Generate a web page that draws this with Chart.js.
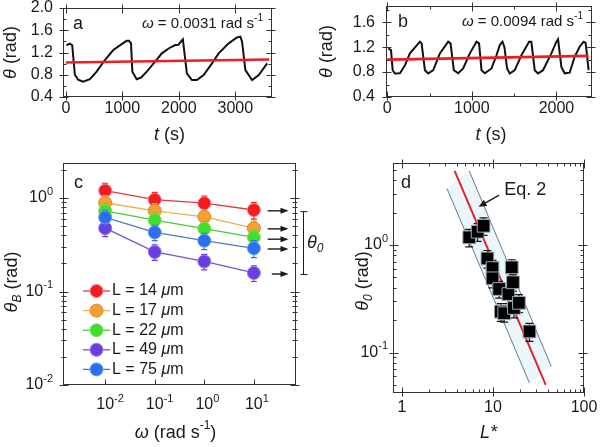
<!DOCTYPE html>
<html>
<head>
<meta charset="utf-8">
<title>theta oscillations</title>
<script src="https://cdn.jsdelivr.net/npm/chart.js@4.4.1/dist/chart.umd.min.js"></script>
<style>
  body { margin: 0; background: #fff; }
  #fig { position: relative; width: 600px; height: 447px; overflow: hidden; }
  .box { position: absolute; }
</style>
</head>
<body>
<div id="fig">
  <div class="box" style="left:0;top:0;width:300px;height:150px"><canvas id="chartA"></canvas></div>
  <div class="box" style="left:300px;top:0;width:300px;height:150px"><canvas id="chartB"></canvas></div>
  <div class="box" style="left:0;top:150px;width:330px;height:297px"><canvas id="chartC"></canvas></div>
  <div class="box" style="left:330px;top:150px;width:270px;height:297px"><canvas id="chartD"></canvas></div>
</div>
<script>
const FONT = '"Liberation Sans", Arial, Helvetica, sans-serif';
const INK = '#1a1a1a';

// ---------- a) omega = 0.0031 rad/s ----------
const tA = [12, 71, 113, 160, 218, 307, 426, 545, 692, 840, 989, 1078, 1119, 1154, 1178, 1255, 1332, 1433, 1581, 1700,
            1847, 1936, 1995, 2025, 2072, 2143, 2232, 2321, 2439, 2588, 2706, 2883, 3031, 3090, 3120, 3179, 3298, 3416, 3564];
const thetaA = [1.33, 1.36, 1.33, 0.80, 0.71, 0.675, 0.72, 0.855, 1.065, 1.245, 1.35, 1.41, 1.41, 1.365, 0.855, 0.72, 0.75, 0.855, 1.035, 1.185,
                1.29, 1.335, 1.34, 1.38, 1.435, 0.825, 0.705, 0.705, 0.795, 1.005, 1.185, 1.365, 1.47, 1.485, 1.395, 0.885, 0.705, 0.795, 1.005];
const fitTA = [0, 3600];
const fitThetaA = [1.02, 1.075];
const xTicksA = [0, 1000, 2000, 3000];
const yTicksA = [0.4, 0.8, 1.2, 1.6, 2.0];
const yMinorA = [0.6, 1.0, 1.4, 1.8];

// ---------- b) omega = 0.0094 rad/s ----------
const tB = [12, 44, 64, 91, 150, 209, 268, 386, 406, 445, 484, 543, 622, 720, 748, 787, 838, 897, 976, 1055,
            1085, 1114, 1153, 1232, 1291, 1330, 1362, 1385, 1416, 1448, 1507, 1586, 1676, 1703, 1743, 1782, 1841, 1940, 1999, 2019,
            2058, 2097, 2156, 2215, 2274, 2321, 2345, 2380];
const thetaB = [1.18, 1.153, 0.83, 0.777, 0.78, 0.91, 1.1, 1.287, 1.26, 0.83, 0.777, 0.83, 1.1, 1.287, 1.26, 0.83, 0.78, 0.858, 1.1, 1.287,
                1.26, 0.83, 0.78, 0.858, 1.07, 1.234, 1.287, 1.2, 0.858, 0.777, 0.83, 1.07, 1.287, 1.287, 0.83, 0.777, 0.83, 1.1, 1.287, 1.326,
                0.884, 0.78, 0.79, 1.045, 1.207, 1.287, 1.27, 0.83];
const fitTB = [0, 2380];
const fitThetaB = [1.0, 1.06];
const xTicksB = [0, 1000, 2000];
const xMinorB = [500, 1500];
const yTicksB = [0.4, 0.8, 1.2, 1.6];
const yMinorB = [0.6, 1.0, 1.4, 1.8];

// ---------- c) theta_B vs omega ----------
const omega = [0.01, 0.1, 1, 10];
const lengths = ['14', '17', '22', '49', '75'];
const thetaB14 = [1.2, 0.96, 0.88, 0.745];
const thetaB17 = [0.89, 0.73, 0.63, 0.476];
const thetaB22 = [0.727, 0.58, 0.47, 0.38];
const thetaB49 = [0.476, 0.265, 0.21, 0.158];
const thetaB75 = [0.62, 0.43, 0.35, 0.29];
const err14 = [0.24, 0.19, 0.17, 0.15];
const err17 = [0.17, 0.14, 0.12, 0.09];
const err22 = [0.14, 0.11, 0.09, 0.07];
const err49 = [0.09, 0.05, 0.04, 0.03];
const err75 = [0.12, 0.08, 0.07, 0.06];
const theta0Arrows = [0.73, 0.468, 0.363, 0.285, 0.154];
const arrowStart = [19, 19, 19, 19, 23];
const arrowEnd = 50;
const theta0Range = [0.715, 0.152];
const decC_x = [0.01, 0.1, 1, 10];
const decC_y = [0.01, 0.1, 1];
const minorC_y = [0.02, 0.03, 0.04, 0.05, 0.06, 0.07, 0.08, 0.09, 0.2, 0.3, 0.4, 0.5, 0.6, 0.7, 0.8, 0.9, 2];

// ---------- d) theta_0 vs L* ----------
const Lstar = [5.5, 6.8, 7.9, 8.7, 9.9, 9.9, 11.7, 12.2, 13.3, 14.8, 16.1, 16.6, 17.0, 19.3, 25.2];
const theta0 = [1.18, 1.33, 1.51, 0.75, 0.61, 0.49, 0.39, 0.24, 0.232, 0.35, 0.62, 0.45, 0.26, 0.29, 0.157];
const theta0Err = [0.22, 0.25, 0.28, 0.14, 0.11, 0.09, 0.07, 0.045, 0.04, 0.065, 0.11, 0.08, 0.05, 0.055, 0.03];
const eqL = [3.8, 38];
const eqTheta = [4.9, 0.05];
const bandUpL = [5.5, 43.8];
const bandUpTheta = [4.9, 0.074];
const bandLoL = [3.13, 25.2];
const bandLoTheta = [3.36, 0.052];
const eqLabel = [13.3, 3.24];
const eqArrowFrom = [11.7, 2.91];
const eqArrowTo = [6.97, 2.27];
const decD_x = [1, 10, 100];
const minorD_x = [2, 3, 4, 5, 6, 7, 8, 9, 20, 30, 40, 50, 60, 70, 80, 90];
const decD_y = [0.1, 1];
const minorD_y = [0.05, 0.06, 0.07, 0.08, 0.09, 0.2, 0.3, 0.4, 0.5, 0.6, 0.7, 0.8, 0.9, 2, 3, 4, 5];

// styles for panel c
const lineColC = ['#e2383f', '#f0b04a', '#49c93a', '#7a4fd2', '#4d7db8'];
const fillColC = ['#f41c1c', '#f6a12e', '#3fe02c', '#6a3ee0', '#2b6ff0'];
const edgeColC = ['#f07a9a', '#d98a2a', '#7ae060', '#9a7ae8', '#6a9af0'];

function pts(xs, ys) { return xs.map((x, i) => ({ x, y: ys[i] })); }

// text with italic / superscript / subscript parts
function rich(ctx, parts, x, y, size, opts = {}) {
  const items = parts.map(([t, f = '']) => {
    const small = f.includes('u') || f.includes('d');
    const s = small ? Math.round(size * 0.68) : size;
    const font = (f.includes('i') ? 'italic ' : '') + s + 'px ' + FONT;
    ctx.font = font;
    const dy = f.includes('u') ? -size * 0.38 : f.includes('d') ? size * 0.3 : 0;
    return { t, font, dy, w: ctx.measureText(t).width };
  });
  const total = items.reduce((a, b) => a + b.w, 0);
  ctx.save();
  ctx.translate(x, y);
  if (opts.rotate) ctx.rotate(-Math.PI / 2);
  let cx = opts.align === 'left' ? 0 : opts.align === 'right' ? -total : -total / 2;
  ctx.fillStyle = opts.color || INK;
  ctx.textBaseline = 'middle';
  ctx.textAlign = 'left';
  items.forEach(it => { ctx.font = it.font; ctx.fillText(it.t, cx, it.dy); cx += it.w; });
  ctx.restore();
}

function logLabel(ctx, x, y, v, align) {
  const e = String(Math.round(Math.log10(v)));
  if (align === 'center') {
    ctx.font = '16px ' + FONT;
    x -= ctx.measureText('10').width / 2;
    align = 'left';
  }
  rich(ctx, [['10'], [e, 'u']], x, y, 16, { align });
}

function arrow(ctx, x1, y1, x2, y2, head = 8, w = 3) {
  const ang = Math.atan2(y2 - y1, x2 - x1);
  const c = Math.cos(ang), s = Math.sin(ang);
  ctx.beginPath();
  ctx.moveTo(x1, y1);
  ctx.lineTo(x2 - head * 0.8 * c, y2 - head * 0.8 * s);
  ctx.stroke();
  ctx.beginPath();
  ctx.moveTo(x2, y2);
  ctx.lineTo(x2 - head * c + w * s, y2 - head * s - w * c);
  ctx.lineTo(x2 - head * c - w * s, y2 - head * s + w * c);
  ctx.closePath();
  ctx.fill();
}

// box + inward/crossing tick marks
function frame(chart, spec) {
  const { ctx, chartArea: a, scales } = chart;
  const L = Math.round(a.left) + 0.5, R = Math.round(a.right) - 0.5;
  const T = Math.round(a.top) + 0.5, B = Math.round(a.bottom) - 0.5;
  ctx.save();
  ctx.strokeStyle = '#333';
  ctx.lineWidth = 1;
  ctx.strokeRect(L, T, R - L, B - T);
  ctx.beginPath();
  const seg = (x1, y1, x2, y2) => { ctx.moveTo(x1, y1); ctx.lineTo(x2, y2); };
  ['x', 'y'].forEach(axis => {
    const sc = scales[axis], s = spec[axis];
    const kinds = [[s.major || [], s.majIn ?? 5, s.majOut ?? 4], [s.minor || [], s.minIn ?? 3, s.minOut ?? 0]];
    kinds.forEach(([vals, inL, outL]) => {
      vals.forEach(v => {
        const p = Math.round(sc.getPixelForValue(v)) + 0.5;
        if (axis === 'x') {
          if (s.sides.includes('b')) seg(p, B + outL, p, B - inL);
          if (s.sides.includes('t')) seg(p, T - outL, p, T + inL);
        } else {
          if (s.sides.includes('l')) seg(L - outL, p, L + inL, p);
          if (s.sides.includes('r')) seg(R + outL, p, R - inL, p);
        }
      });
    });
  });
  ctx.stroke();
  ctx.restore();
}

function errorBars(chart, idx, errs, color, cap) {
  const meta = chart.getDatasetMeta(idx);
  const ys = chart.scales.y;
  const ctx = chart.ctx;
  const data = chart.data.datasets[idx].data;
  ctx.save();
  ctx.strokeStyle = color;
  ctx.lineWidth = 1.2;
  ctx.beginPath();
  meta.data.forEach((pt, j) => {
    const top = ys.getPixelForValue(data[j].y + errs[j]);
    const bot = ys.getPixelForValue(data[j].y - errs[j]);
    ctx.moveTo(pt.x, top); ctx.lineTo(pt.x, bot);
    ctx.moveTo(pt.x - cap, top); ctx.lineTo(pt.x + cap, top);
    ctx.moveTo(pt.x - cap, bot); ctx.lineTo(pt.x + cap, bot);
  });
  ctx.stroke();
  ctx.restore();
}

function decor(spec, extra, beforeDs) {
  return {
    id: 'decor',
    beforeDatasetDraw(chart, args) { if (beforeDs) beforeDs(chart, args.index); },
    afterDraw(chart) { frame(chart, spec); extra(chart); }
  };
}

function base(pad, yW, xH, xOpt, yOpt) {
  const axis = (opt, fit) => Object.assign({
    grid: { display: false, drawTicks: false },
    border: { display: false },
    ticks: { display: false },
    afterFit: fit
  }, opt);
  return {
    responsive: true,
    maintainAspectRatio: false,
    animation: false,
    events: [],
    layout: { padding: pad },
    plugins: { legend: { display: false }, tooltip: { enabled: false } },
    scales: {
      x: axis(xOpt, s => { s.height = xH; }),
      y: axis(yOpt, s => { s.width = yW; })
    }
  };
}

function timePanel(id, t, th, fitT, fitTh, opts) {
  return new Chart(document.getElementById(id), {
    type: 'scatter',
    data: {
      datasets: [
        { data: pts(fitT, fitTh), showLine: true, borderColor: '#ee1c25', borderWidth: 2.6, pointRadius: 0, order: 0 },
        { data: pts(t, th), showLine: true, borderColor: '#111', borderWidth: 2, pointRadius: 0, order: 1 }
      ]
    },
    options: base(opts.pad, opts.yW, 53,
      { type: 'linear', min: opts.xMin, max: opts.xMax },
      { type: 'linear', min: 0.4, max: opts.yMax }),
    plugins: [decor(
      { x: { major: opts.xTicks, minor: opts.xMinor, sides: 'bt' }, y: { major: opts.yTicks, minor: opts.yMinor, sides: 'lr' } },
      chart => {
        const { ctx, chartArea: a, scales: { x, y } } = chart;
        opts.xTicks.forEach(v => rich(ctx, [[String(v)]], x.getPixelForValue(v), a.bottom + 12, 16));
        opts.yTicks.forEach(v => rich(ctx, [[v.toFixed(1)]], a.left - opts.yPad, y.getPixelForValue(v), 16, { align: 'right' }));
        rich(ctx, [['t', 'i'], [' (s)']], (a.left + a.right) / 2 + 2, a.bottom + 38, 18);
        rich(ctx, [['θ', 'i'], [' (rad)']], opts.yTitleX, (a.top + a.bottom) / 2, 18, { rotate: true });
        rich(ctx, [[opts.letter]], a.left + opts.letterDx, a.top + 16, 18, { align: 'left' });
        rich(ctx, [['ω', 'i'], [' = ' + opts.omega + ' rad s'], ['-1', 'u']], a.right - 9, a.top + 16, 15, { align: 'right' });
      })]
  });
}

timePanel('chartA', tA, thetaA, fitTA, fitThetaA, {
  pad: { left: 0, right: 28, top: 8, bottom: 0 }, yW: 63, yPad: 10,
  xMin: -50, xMax: 3650, yMax: 2.0,
  xTicks: xTicksA, xMinor: [], yTicks: yTicksA, yMinor: yMinorA,
  yTitleX: 11, letter: 'a', letterDx: 10, omega: '0.0031'
});

timePanel('chartB', tB, thetaB, fitTB, fitThetaB, {
  pad: { left: 0, right: 8, top: 6, bottom: 0 }, yW: 86, yPad: 11,
  xMin: -15, xMax: 2420, yMax: 1.86,
  xTicks: xTicksB, xMinor: xMinorB, yTicks: yTicksB, yMinor: yMinorB,
  yTitleX: 27, letter: 'b', letterDx: 12, omega: '0.0094'
});

// ---------- panel c ----------
const seriesC = [thetaB14, thetaB17, thetaB22, thetaB49, thetaB75];
const errC = [err14, err17, err22, err49, err75];

new Chart(document.getElementById('chartC'), {
  type: 'scatter',
  data: {
    datasets: seriesC.map((s, i) => ({
      data: pts(omega, s), showLine: true,
      borderColor: lineColC[i], borderWidth: 1.3,
      pointRadius: 6.5, pointBackgroundColor: fillColC[i],
      pointBorderColor: edgeColC[i], pointBorderWidth: 1,
      order: seriesC.length - i
    }))
  },
  options: base({ left: 0, right: 34, top: 13, bottom: 0 }, 63, 62,
    { type: 'logarithmic', min: 0.00141, max: 70.8 },
    { type: 'logarithmic', min: 0.01, max: 2.37 }),
  plugins: [decor(
    { x: { major: decC_x, sides: 'b', majOut: 0 }, y: { major: decC_y, minor: minorC_y, sides: 'lr', minOut: 2 } },
    chart => {
      const { ctx, chartArea: a, scales: { x, y } } = chart;
      decC_x.forEach(v => logLabel(ctx, x.getPixelForValue(v), a.bottom + 20, v, 'center'));
      decC_y.forEach(v => logLabel(ctx, a.left - 10, y.getPixelForValue(v), v, 'right'));
      rich(ctx, [['ω', 'i'], [' (rad s'], ['-1', 'u'], [')']], (a.left + a.right) / 2 - 4, a.bottom + 48, 18);
      rich(ctx, [['θ', 'i'], ['B', 'id'], [' (rad)']], 12, (a.top + a.bottom) / 2 + 8, 18, { rotate: true });
      rich(ctx, [['c']], a.left + 11, a.top + 20, 18, { align: 'left' });

      // legend
      lengths.forEach((L, i) => {
        const yy = a.top + 128 + i * 19.6;
        ctx.save();
        ctx.strokeStyle = lineColC[i];
        ctx.lineWidth = 1.3;
        ctx.beginPath(); ctx.moveTo(a.left + 20, yy); ctx.lineTo(a.left + 47, yy); ctx.stroke();
        ctx.beginPath(); ctx.arc(a.left + 33.5, yy, 6.5, 0, Math.PI * 2);
        ctx.fillStyle = fillColC[i]; ctx.fill();
        ctx.strokeStyle = edgeColC[i]; ctx.lineWidth = 1; ctx.stroke();
        ctx.restore();
        rich(ctx, [['L = ' + L + ' '], ['μ', 'i'], ['m']], a.left + 49, yy, 16, { align: 'left' });
      });

      // theta_0 arrows and bracket
      ctx.save();
      ctx.strokeStyle = INK; ctx.fillStyle = INK; ctx.lineWidth = 1.4;
      theta0Arrows.forEach((v, i) => {
        const py = y.getPixelForValue(v);
        arrow(ctx, x.getPixelForValue(arrowStart[i]), py, x.getPixelForValue(arrowEnd), py, 8, 3);
      });
      const bx = Math.round(a.right + 7) + 0.5;
      const b1 = y.getPixelForValue(theta0Range[0]), b2 = y.getPixelForValue(theta0Range[1]);
      ctx.lineWidth = 1;
      ctx.beginPath();
      ctx.moveTo(bx, b1); ctx.lineTo(bx, b2);
      ctx.moveTo(bx - 3, b1); ctx.lineTo(bx + 4, b1);
      ctx.moveTo(bx - 3, b2); ctx.lineTo(bx + 4, b2);
      ctx.stroke();
      ctx.restore();
      rich(ctx, [['θ', 'i'], ['0', 'id']], a.right + 11, (b1 + b2) / 2, 18, { align: 'left' });
    },
    (chart, idx) => errorBars(chart, idx, errC[idx], fillColC[idx], 3)
  )]
});

// ---------- panel d ----------
const bandL = [bandLoL[0], bandUpL[0], bandUpL[1], bandLoL[1]];
const bandTheta = [bandLoTheta[0], bandUpTheta[0], bandUpTheta[1], bandLoTheta[1]];

new Chart(document.getElementById('chartD'), {
  type: 'scatter',
  data: {
    datasets: [
      { data: pts(Lstar, theta0), pointStyle: 'rect', pointRadius: 9, pointBackgroundColor: '#000',
        pointBorderColor: '#9aa8b2', pointBorderWidth: 1, order: 0 },
      { data: pts(eqL, eqTheta), showLine: true, borderColor: '#e0242c', borderWidth: 2, pointRadius: 0, order: 1 },
      { data: pts(bandUpL, bandUpTheta), showLine: true, borderColor: '#5f7d93', borderWidth: 1, pointRadius: 0, order: 2 },
      { data: pts(bandLoL, bandLoTheta), showLine: true, borderColor: '#5f7d93', borderWidth: 1, pointRadius: 0, order: 2 },
      { data: pts(bandL, bandTheta), showLine: true, fill: 'shape', backgroundColor: '#eaf6fa',
        borderColor: 'rgba(0,0,0,0)', pointRadius: 0, order: 10 }
    ]
  },
  options: base({ left: 0, right: 16, top: 13, bottom: 0 }, 63, 54,
    { type: 'logarithmic', min: 0.8, max: 100 },
    { type: 'logarithmic', min: 0.042, max: 5.8 }),
  plugins: [decor(
    { x: { major: decD_x, minor: minorD_x, sides: 'bt' }, y: { major: decD_y, minor: minorD_y, sides: 'lr' } },
    chart => {
      const { ctx, chartArea: a, scales: { x, y } } = chart;
      decD_x.forEach(v => rich(ctx, [[String(v)]], x.getPixelForValue(v), a.bottom + 15, 16));
      decD_y.forEach(v => logLabel(ctx, a.left - 5, y.getPixelForValue(v), v, 'right'));
      rich(ctx, [['L*', 'i']], (a.left + a.right) / 2, a.bottom + 40, 18);
      rich(ctx, [['θ', 'i'], ['0', 'id'], [' (rad)']], 33, (a.top + a.bottom) / 2 + 3, 18, { rotate: true });
      rich(ctx, [['d']], a.left + 8, a.top + 20, 18, { align: 'left' });
      rich(ctx, [['Eq. 2']], x.getPixelForValue(eqLabel[0]), y.getPixelForValue(eqLabel[1]), 18, { align: 'left' });
      ctx.save();
      ctx.strokeStyle = INK; ctx.fillStyle = INK; ctx.lineWidth = 1.3;
      arrow(ctx, x.getPixelForValue(eqArrowFrom[0]), y.getPixelForValue(eqArrowFrom[1]),
        x.getPixelForValue(eqArrowTo[0]), y.getPixelForValue(eqArrowTo[1]), 8, 3.5);
      ctx.restore();
    },
    (chart, idx) => { if (idx === 0) errorBars(chart, 0, theta0Err, '#111', 4); }
  )]
});
</script>
</body>
</html>
